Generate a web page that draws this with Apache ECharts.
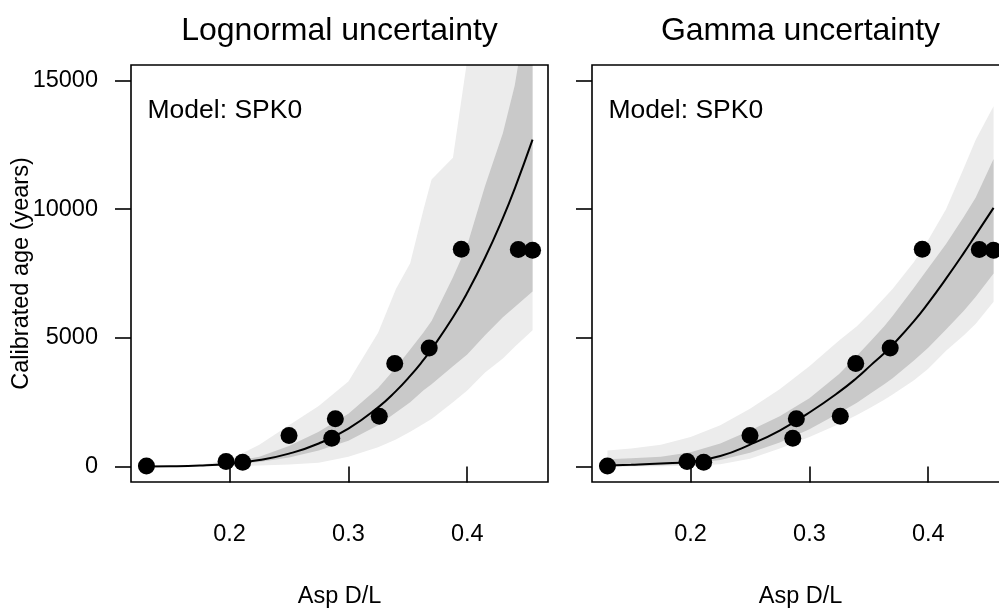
<!DOCTYPE html>
<html>
<head>
<meta charset="utf-8">
<script src="https://cdn.jsdelivr.net/npm/echarts@6/dist/echarts.min.js"></script>
<style>
  html, body { margin: 0; padding: 0; background: #ffffff; }
  #chart { width: 999px; height: 608px; }
</style>
</head>
<body>
<div id="chart"></div>
<script>
// Observed samples: Asp D/L ratio vs calibrated age (years)
const aspDL  = [0.130, 0.197, 0.211, 0.250, 0.286, 0.289, 0.326, 0.339, 0.368, 0.395, 0.443, 0.455];
const calAge = [20, 200, 170, 1210, 1100, 1860, 1950, 4000, 4610, 8440, 8430, 8400];

// D/L positions where the fitted curve and uncertainty bands are evaluated
const fitX = [0.13, 0.15, 0.175, 0.2, 0.225, 0.25, 0.275, 0.3, 0.325, 0.34, 0.352, 0.363, 0.37, 0.388, 0.4, 0.415, 0.43, 0.44, 0.455];

// Lognormal uncertainty model: fitted age, inner band, outer band
const lnFit     = [2, 8, 37, 110, 253, 502, 896, 1476, 2300, 2930, 3520, 4130, 4560, 5800, 6750, 8110, 9650, 10800, 12700];
const lnInnerLo = [1, 6, 26, 80, 180, 350, 620, 1000, 1600, 2100, 2500, 2950, 3200, 3900, 4350, 5100, 5800, 6200, 6800];
const lnInnerHi = [3, 12, 55, 170, 380, 800, 1350, 2050, 3050, 3850, 4550, 5200, 5650, 7350, 8600, 10900, 12950, 14800, 19000];
const lnOuterLo = [1, 3, 8, 20, 40, 80, 150, 380, 750, 1050, 1350, 1650, 1850, 2500, 2950, 3650, 4200, 4650, 5300];
const lnOuterHi = [4, 15, 60, 260, 850, 1600, 2350, 3300, 5200, 6900, 7900, 9950, 11150, 12000, 15800, 19000, 22000, 24000, 27000];

// Gamma uncertainty model: fitted age, inner band, outer band
const gmFit     = [40, 70, 120, 190, 410, 850, 1400, 2100, 2900, 3450, 3950, 4400, 4720, 5650, 6350, 7300, 8300, 9000, 10050];
const gmInnerLo = [5, 20, 50, 100, 250, 540, 930, 1450, 2080, 2480, 2860, 3200, 3430, 4120, 4620, 5320, 6050, 6600, 7500];
const gmInnerHi = [280, 320, 380, 560, 900, 1400, 1950, 2650, 3600, 4300, 4900, 5450, 5850, 6950, 7700, 8650, 9700, 10450, 11950];
const gmOuterLo = [0, 0, 10, 30, 90, 300, 700, 1150, 1650, 2000, 2300, 2600, 2800, 3350, 3800, 4500, 5100, 5550, 6400];
const gmOuterHi = [620, 700, 850, 1150, 1600, 2250, 3000, 3900, 4900, 5450, 6000, 6550, 6900, 7950, 8800, 10000, 11600, 12700, 14000];

const panelTitles = ['Lognormal uncertainty', 'Gamma uncertainty'];
const modelLabel = 'Model: SPK0';
const xTicks = [0.2, 0.3, 0.4];
const yTicks = [0, 5000, 10000, 15000];

const FONT = '"Liberation Sans", Arial, Helvetica, sans-serif';
const LIGHT = '#ececec';
const DARK = '#c9c9c9';

const chart = echarts.init(document.getElementById('chart'), null, { renderer: 'canvas' });

const panels = [
  { left: 131, fit: lnFit, inLo: lnInnerLo, inHi: lnInnerHi, outLo: lnOuterLo, outHi: lnOuterHi },
  { left: 592, fit: gmFit, inLo: gmInnerLo, inHi: gmInnerHi, outLo: gmOuterLo, outHi: gmOuterHi }
];

// Filled band between two curves, drawn as one polygon in data coordinates
function bandSeries(idx, lo, hi, color, z) {
  return {
    type: 'custom',
    xAxisIndex: idx,
    yAxisIndex: idx,
    silent: true,
    clip: true,
    z: z,
    data: fitX.map((x, i) => [x, lo[i], hi[i]]),
    encode: { x: 0, y: [1, 2] },
    renderItem: function (params, api) {
      if (params.dataIndex !== 0) return null;
      const pts = [];
      for (let i = 0; i < fitX.length; i++) pts.push(api.coord([fitX[i], hi[i]]));
      for (let i = fitX.length - 1; i >= 0; i--) pts.push(api.coord([fitX[i], lo[i]]));
      const cs = params.coordSys;
      return {
        type: 'polygon',
        shape: { points: pts },
        style: { fill: color },
        clipPath: { type: 'rect', shape: { x: cs.x, y: cs.y, width: cs.width, height: cs.height } }
      };
    }
  };
}

// Fixed plot boxes; the right panel runs past the canvas edge
const grids = panels.map(p => ({
  left: p.left, top: 65, width: 417, height: 417,
  outerBoundsMode: 'none', containLabel: false,
  show: true, borderColor: '#000', borderWidth: 1.6, backgroundColor: 'transparent', z: 5
}));

const xAxes = panels.map((p, i) => ({
  type: 'value', gridIndex: i, min: 0.117, max: 0.468,
  axisLine: { show: false },
  splitLine: { show: false },
  axisTick: { show: true, inside: false, length: 16, customValues: xTicks, lineStyle: { color: '#000', width: 1.6 } },
  axisLabel: { customValues: xTicks, margin: 41, fontSize: 23.5, color: '#000', fontFamily: FONT,
               formatter: v => v.toFixed(1) },
  name: 'Asp D/L', nameLocation: 'middle', nameGap: 103, nameMoveOverlap: false,
  nameTextStyle: { fontSize: 23.5, color: '#000', fontFamily: FONT }
}));

// The y title is allowed to sit over the tick labels
const yAxes = panels.map((p, i) => ({
  type: 'value', gridIndex: i, min: -600, max: 15600,
  axisLine: { show: false },
  splitLine: { show: false },
  axisTick: { show: true, inside: false, length: 16, customValues: yTicks, lineStyle: { color: '#000', width: 1.6 } },
  axisLabel: { show: i === 0, customValues: yTicks, margin: 33, fontSize: 23.5, color: '#000', fontFamily: FONT,
               formatter: v => String(v) },
  name: i === 0 ? 'Calibrated age (years)' : '',
  nameLocation: 'middle', nameGap: 97, nameMoveOverlap: false,
  nameTextStyle: { fontSize: 23.5, color: '#000', fontFamily: FONT }
}));

const series = [];
panels.forEach((p, i) => {
  series.push(bandSeries(i, p.outLo, p.outHi, LIGHT, 1));
  series.push(bandSeries(i, p.inLo, p.inHi, DARK, 2));
  series.push({
    type: 'line', xAxisIndex: i, yAxisIndex: i, z: 3,
    data: fitX.map((x, k) => [x, p.fit[k]]),
    smooth: true, showSymbol: false, silent: true,
    lineStyle: { color: '#000', width: 2 }
  });
  series.push({
    type: 'scatter', xAxisIndex: i, yAxisIndex: i, z: 4,
    data: aspDL.map((x, k) => [x, calAge[k]]),
    symbol: 'circle', symbolSize: 17, silent: true,
    itemStyle: { color: '#000', opacity: 1 }
  });
});

const graphic = [];
panels.forEach((p, i) => {
  graphic.push({
    type: 'text', x: p.left + 208.5, y: 31, silent: true,
    style: { text: panelTitles[i], font: '32px ' + FONT, fill: '#000', align: 'center', verticalAlign: 'middle' }
  });
  graphic.push({
    type: 'text', x: p.left + 16.5, y: 111, silent: true, z: 10,
    style: { text: modelLabel, font: '26.5px ' + FONT, fill: '#000', align: 'left', verticalAlign: 'middle' }
  });
});

chart.setOption({
  animation: false,
  backgroundColor: '#ffffff',
  grid: grids,
  xAxis: xAxes,
  yAxis: yAxes,
  series: series,
  graphic: graphic
});
</script>
</body>
</html>
